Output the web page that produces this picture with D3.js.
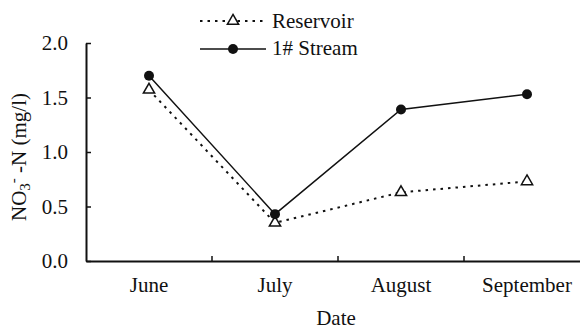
<!DOCTYPE html>
<html>
<head>
<meta charset="utf-8">
<script src="https://cdn.jsdelivr.net/npm/d3@7/dist/d3.min.js"></script>
<style>
  html, body { margin: 0; padding: 0; background: #fff; }
  svg { display: block; }
  svg text { font-family: 'Liberation Serif', Tinos, 'Times New Roman', serif !important; }
</style>
</head>
<body>
<svg id="chart" width="580" height="329" font-family="'Liberation Serif', Tinos, serif"></svg>
<script>
const months = ["June", "July", "August", "September"];
const reservoir = [1.57, 0.35, 0.63, 0.73];
const stream = [1.70, 0.43, 1.39, 1.53];
const yTicks = [0.0, 0.5, 1.0, 1.5, 2.0];

const FS = 21;
const INK = "#111";
const svg = d3.select("#chart");
const margin = { left: 86, top: 43, bottom: 68 };
const H = 329;

const x = d3.scaleBand().domain(months).range([margin.left, margin.left + 4 * 126]);
const y = d3.scaleLinear().domain([0, 2]).range([H - margin.bottom, margin.top]);
const cx = m => x(m) + x.bandwidth() / 2;

const styleText = sel => sel.attr("font-size", FS).attr("fill", INK);

// axes
const yAxis = d3.axisLeft(y).tickValues(yTicks).tickFormat(d3.format(".1f"))
  .tickSizeInner(-5).tickSizeOuter(0).tickPadding(18);
const gy = svg.append("g").attr("transform", `translate(${margin.left},0)`).call(yAxis)
  .attr("font-family", null).attr("font-size", null);

const xAxis = d3.axisBottom(x).tickSizeInner(0).tickSizeOuter(0).tickPadding(16);
const gx = svg.append("g").attr("transform", `translate(0,${y(0)})`).call(xAxis)
  .attr("font-family", null).attr("font-size", null);
gx.selectAll(".sep").data(months.slice(1)).enter().append("line")
  .attr("x1", d => x(d)).attr("x2", d => x(d)).attr("y1", 0).attr("y2", -5)
  .attr("stroke", INK).attr("stroke-width", 1.5);
svg.selectAll(".domain").attr("stroke", INK).attr("stroke-width", 2);
svg.selectAll(".tick line").attr("stroke", INK).attr("stroke-width", 1.5);
gy.selectAll("text").call(styleText);
gx.selectAll("text").call(styleText);

// series lines
const line = d3.line().x((d, i) => cx(months[i])).y(d => y(d));
svg.append("path").datum(reservoir).attr("d", line)
  .attr("fill", "none").attr("stroke", INK).attr("stroke-width", 2).attr("stroke-dasharray", "2.5,5");
svg.append("path").datum(stream).attr("d", line)
  .attr("fill", "none").attr("stroke", INK).attr("stroke-width", 1.5);

const tri = d3.symbol().type(d3.symbolTriangle).size(55);
svg.selectAll(".res").data(reservoir).enter().append("path")
  .attr("d", tri).attr("transform", (d, i) => `translate(${cx(months[i])},${y(d)})`)
  .attr("fill", "#fff").attr("stroke", INK).attr("stroke-width", 1.5);
svg.selectAll(".str").data(stream).enter().append("circle")
  .attr("cx", (d, i) => cx(months[i])).attr("cy", d => y(d)).attr("r", 5)
  .attr("fill", INK);

// legend
const lg = svg.append("g");
lg.append("line").attr("x1", 200).attr("x2", 266).attr("y1", 21).attr("y2", 21)
  .attr("stroke", INK).attr("stroke-width", 2).attr("stroke-dasharray", "2.5,5");
lg.append("path").attr("d", tri).attr("transform", "translate(233,21)")
  .attr("fill", "#fff").attr("stroke", INK).attr("stroke-width", 1.5);
lg.append("text").attr("x", 272).attr("y", 28).text("Reservoir").call(styleText);
lg.append("line").attr("x1", 200).attr("x2", 266).attr("y1", 49).attr("y2", 49)
  .attr("stroke", INK).attr("stroke-width", 1.5);
lg.append("circle").attr("cx", 233).attr("cy", 49).attr("r", 5).attr("fill", INK);
lg.append("text").attr("x", 272).attr("y", 55).text("1# Stream").call(styleText);

// axis titles
svg.append("text").attr("x", 336).attr("y", 325).attr("text-anchor", "middle")
  .text("Date").call(styleText);
const yt = svg.append("text").attr("transform", "translate(26,157) rotate(-90)")
  .attr("text-anchor", "middle").call(styleText);
yt.append("tspan").text("NO");
yt.append("tspan").attr("font-size", 15).attr("dy", 4).text("3");
yt.append("tspan").attr("font-size", 15).attr("dy", -12).text("-");
yt.append("tspan").attr("dy", 8).text(" -N  (mg/l)");
</script>
</body>
</html>
